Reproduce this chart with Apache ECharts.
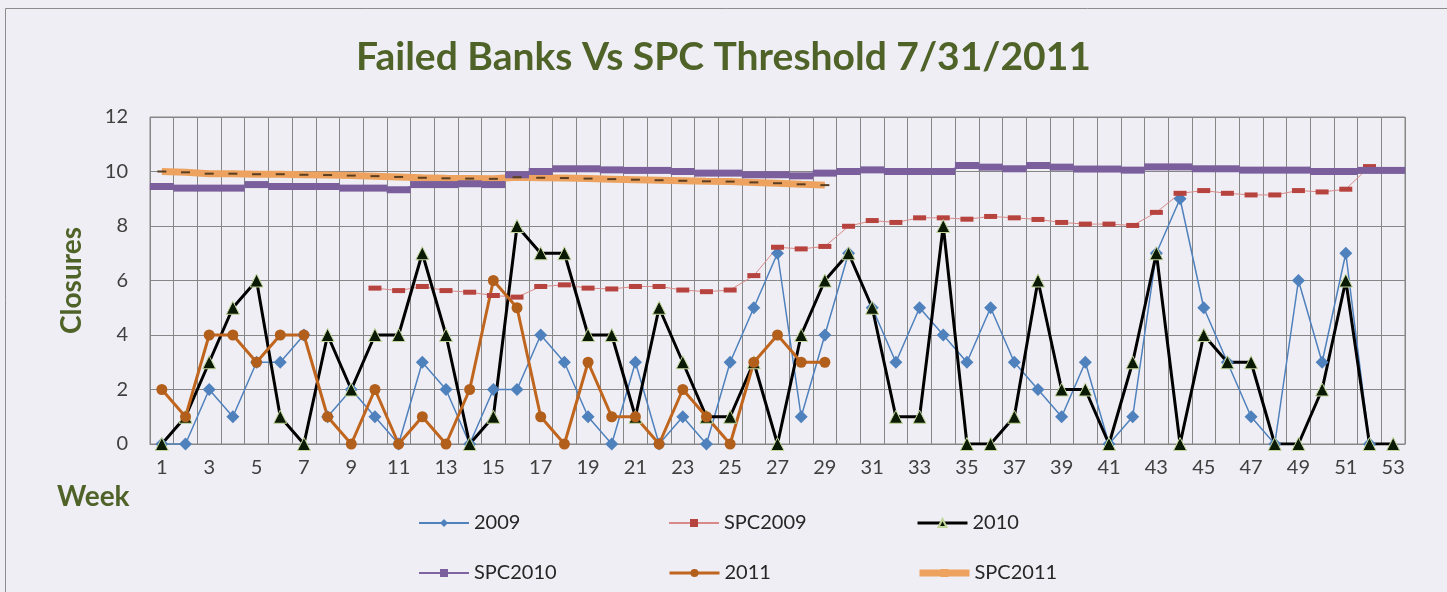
<!DOCTYPE html>
<html>
<head>
<meta charset="utf-8">
<script src="https://cdn.jsdelivr.net/npm/echarts@6/dist/echarts.min.js"></script>
<style>
html,body{margin:0;padding:0;background:#EFEEF4;}
#main{width:1447px;height:592px;}
</style>
</head>
<body>
<div id="main"></div>
<script>
const weeks = Array.from({length: 53}, (_, i) => String(i + 1));

const y2009 = [0,0,2,1,3,3,4,1,2,1,0,3,2,0,2,2,4,3,1,0,3,0,1,0,3,5,7,1,4,7,5,3,5,4,3,5,3,2,1,3,0,1,7,9,5,3,1,0,6,3,7,0,null];

const spc2009 = [null,null,null,null,null,null,null,null,null,5.72,5.63,5.78,5.63,5.57,5.45,5.39,5.78,5.84,5.72,5.69,5.78,5.78,5.65,5.59,5.65,6.18,7.22,7.16,7.25,7.99,8.2,8.13,8.3,8.3,8.25,8.35,8.3,8.24,8.13,8.07,8.07,8.02,8.5,9.2,9.3,9.2,9.14,9.14,9.3,9.25,9.35,10.18,null];

const y2010 = [0,1,3,5,6,1,0,4,2,4,4,7,4,0,1,8,7,7,4,4,1,5,3,1,1,3,0,4,6,7,5,1,1,8,0,0,1,6,2,2,0,3,7,0,4,3,3,0,0,2,6,0,0];

const spc2010 = [9.45,9.39,9.39,9.39,9.52,9.45,9.45,9.45,9.39,9.39,9.33,9.52,9.52,9.55,9.52,9.88,10.0,10.1,10.1,10.06,10.04,10.04,10.0,9.94,9.94,9.88,9.88,9.84,9.94,10.0,10.06,10.0,10.0,10.0,10.22,10.16,10.1,10.22,10.16,10.09,10.09,10.05,10.17,10.17,10.1,10.1,10.05,10.05,10.05,10.0,10.0,10.04,10.04];

const y2011 = [2,1,4,4,3,4,4,1,0,2,0,1,0,2,6,5,1,0,3,1,1,0,2,1,0,3,4,3,3];

const spc2011 = [10.0,9.97,9.92,9.92,9.9,9.9,9.88,9.87,9.85,9.83,9.8,9.77,9.75,9.74,9.73,9.79,9.77,9.76,9.74,9.72,9.7,9.68,9.66,9.64,9.63,9.6,9.57,9.53,9.5];

const yTicks = ['0','2','4','6','8','10','12'];

const seriesNames = ['2009','SPC2009','2010','SPC2010','2011','SPC2011'];

const chart = echarts.init(document.getElementById('main'), null, {renderer: 'canvas'});
const FONT = 'Lato';
const GREEN = '#4F6228';

const legendPos = [
  {left: 413, top: 508}, {left: 663, top: 508}, {left: 911, top: 508},
  {left: 413, top: 558}, {left: 663, top: 558}, {left: 911, top: 558}
];

const legendExtra = {
  'SPC2011': {itemStyle: {color: '#EDA35F'}, lineStyle: {width: 7, color: '#EDA35F'}},
  '2010': {lineStyle: {width: 3, color: '#000'}},
  '2011': {lineStyle: {width: 3, color: '#C0651E'}}
};

const option = {
  backgroundColor: '#EFEEF4',
  animation: false,
  title: {
    text: 'Failed Banks Vs SPC Threshold 7/31/2011',
    left: 'center',
    top: 33,
    textStyle: {fontFamily: FONT, fontSize: 39, fontWeight: 'bold', color: GREEN}
  },
  legend: seriesNames.map((n, i) => ({
    data: [Object.assign({name: n}, legendExtra[n] || {})],
    left: legendPos[i].left,
    top: legendPos[i].top,
    itemWidth: 50,
    itemHeight: 10,
    textStyle: {fontFamily: FONT, fontSize: 20, color: '#262626'}
  })),
  grid: {left: 150, right: 42, top: 117, bottom: 148, show: true, borderColor: '#868686', borderWidth: 1, backgroundColor: 'transparent'},
  xAxis: {
    type: 'category',
    data: weeks,
    boundaryGap: true,
    axisLine: {lineStyle: {color: '#868686'}},
    axisTick: {show: false},
    axisLabel: {interval: 1, fontFamily: FONT, fontSize: 20, color: '#404040', margin: 14},
    splitLine: {show: true, interval: 0, lineStyle: {color: '#868686', width: 1}}
  },
  yAxis: {
    type: 'value',
    min: 0, max: 12, interval: 2,
    name: 'Closures',
    nameLocation: 'middle',
    nameRotate: 90,
    nameGap: 64,
    nameTextStyle: {fontFamily: FONT, fontSize: 28, fontWeight: 'bold', color: GREEN},
    axisLine: {show: false},
    axisTick: {show: false},
    axisLabel: {fontFamily: FONT, fontSize: 20, color: '#404040', margin: 22,
      formatter: v => yTicks[v / 2]},
    splitLine: {lineStyle: {color: '#868686', width: 1}}
  },
  graphic: [
    {type: 'rect', shape: {x: 5.5, y: 8.5, width: 1460, height: 600}, style: {fill: 'none', stroke: '#8C8C8C', lineWidth: 1}},
    {type: 'text', left: 57, top: 483, style: {text: 'Week', font: 'bold 28px ' + FONT, fill: GREEN}}
  ],
  series: [
    {name: '2009', type: 'line', data: y2009, symbol: 'diamond', symbolSize: 13,
      lineStyle: {color: '#4F81BD', width: 1.5}, itemStyle: {color: '#4F81BD'}},
    {name: 'SPC2009', type: 'line', data: spc2009, symbol: 'rect', symbolSize: [13, 5],
      lineStyle: {color: '#D98A88', width: 1}, itemStyle: {color: '#B7433F'}},
    {name: '2010', type: 'line', data: y2010, symbol: 'triangle', symbolSize: 13,
      lineStyle: {color: '#000000', width: 3}, itemStyle: {color: '#0B1A05', borderColor: '#C3D69B', borderWidth: 1}},
    {name: 'SPC2010', type: 'line', data: spc2010, symbol: 'rect', symbolSize: [24, 7],
      lineStyle: {color: '#8064A2', width: 2}, itemStyle: {color: '#7A5F9C'}},
    {name: '2011', type: 'line', data: y2011, symbol: 'circle', symbolSize: 11,
      lineStyle: {color: '#C0651E', width: 3}, itemStyle: {color: '#B35F1C'}},
    {name: 'SPC2011', type: 'line', data: spc2011, symbol: 'rect', symbolSize: [9, 2],
      lineStyle: {color: '#EDA35F', width: 7}, itemStyle: {color: '#5A3E22'}}
  ]
};
chart.setOption(option);
</script>
</body>
</html>
